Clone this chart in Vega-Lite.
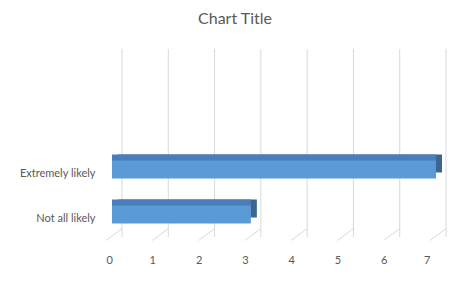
{
  "$schema": "https://vega.github.io/schema/vega-lite/v6.json",
  "autosize": {"type": "none"},
  "width": 324,
  "height": 180,
  "padding": {"left": 112, "top": 57, "right": 34, "bottom": 46},
  "background": "white",
  "config": {
    "view": {"stroke": null},
    "font": "Lato",
    "scale": {"bandPaddingInner": 0.6, "bandPaddingOuter": 0.3}
  },
  "title": {
    "text": "Chart Title",
    "fontSize": 16,
    "fontWeight": "normal",
    "color": "#595959",
    "anchor": "middle",
    "dx": -39,
    "offset": 22
  },
  "datasets": {
    "responses": [
      {"category": "Extremely likely", "count": 7},
      {"category": "Not all likely", "count": 3}
    ],
    "gridticks": [
      {"tick": 0}, {"tick": 1}, {"tick": 2}, {"tick": 3},
      {"tick": 4}, {"tick": 5}, {"tick": 6}, {"tick": 7}
    ]
  },
  "layer": [
    {
      "data": {"name": "gridticks"},
      "mark": {"type": "rule", "color": "#d9d9d9", "strokeWidth": 1, "xOffset": 10, "yOffset": -8, "y2Offset": -8},
      "encoding": {
        "x": {"field": "tick", "type": "quantitative", "scale": {"domain": [0, 7]},
          "axis": {"grid": false, "domain": false, "ticks": false, "values": [0,1,2,3,4,5,6,7], "labelOffset": -6, "labelPadding": 17, "labelFontSize": 11, "labelColor": "#595959", "title": null}}
      }
    },
    {
      "data": {"name": "gridticks"},
      "mark": {"type": "rule", "color": "#d9d9d9", "strokeWidth": 1, "xOffset": -6, "x2Offset": 10, "yOffset": 26, "y2Offset": 14},
      "encoding": {
        "x": {"field": "tick", "type": "quantitative"},
        "x2": {"field": "tick"},
        "y": {"datum": "Not all likely", "type": "nominal"},
        "y2": {"datum": "Not all likely"}
      }
    },
    {
      "data": {"name": "responses"},
      "mark": {"type": "bar", "color": "#3b6592", "xOffset": 6, "x2Offset": 6, "yOffset": -6},
      "encoding": {
        "y": {"field": "category", "type": "nominal", "scale": {"domain": ["blank1", "blank2", "Extremely likely", "Not all likely"]},
          "axis": {"domain": false, "ticks": false, "labelPadding": 17, "labelOffset": 4, "labelFontSize": 11, "labelColor": "#595959", "title": null,
            "labelExpr": "indexof(datum.label, 'blank') == 0 ? '' : datum.label"}},
        "x": {"field": "count", "type": "quantitative"}
      }
    },
    {
      "data": {"name": "responses"},
      "mark": {"type": "bar", "color": "#4a7dba", "xOffset": 0, "x2Offset": 6, "yOffset": -6},
      "encoding": {
        "y": {"field": "category", "type": "nominal"},
        "x": {"field": "count", "type": "quantitative"}
      }
    },
    {
      "data": {"name": "responses"},
      "mark": {"type": "bar", "color": "#5b9bd5"},
      "encoding": {
        "y": {"field": "category", "type": "nominal"},
        "x": {"field": "count", "type": "quantitative"}
      }
    }
  ]
}
